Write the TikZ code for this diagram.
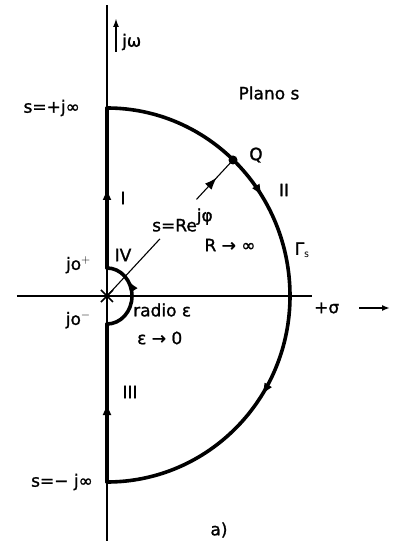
\documentclass[tikz,border=0pt]{standalone}
\usepackage{fontspec}
\setmainfont{DejaVu Sans}[FakeBold=1.2]
\usetikzlibrary{arrows.meta,calc,decorations.markings}

\begin{document}
\begin{tikzpicture}[
    x=1pt, y=1pt,
    axis/.style={line width=1.1pt},
    contour/.style={line width=3.6pt, line cap=round},
    midarrow/.style={postaction={decorate}, decoration={markings,
        mark=at position #1 with {\arrow{Latex[length=12pt,width=9pt]}}}},
    lbl/.style={font=\fontsize{17}{19}\selectfont, inner sep=1pt}
]
    \useasboundingbox (-107,-245) rectangle (287,296);

    % Axes
    \coordinate (O) at (0,0);
    \coordinate (ytop) at (0,291);
    \coordinate (ybot) at (0,-245);
    \coordinate (xleft) at (-90,0);
    \coordinate (xright) at (205,0);
    \draw[axis] (ybot) -- (ytop);
    \draw[axis] (xleft) -- (xright);

    % Contour
    \coordinate (top) at (0,188);
    \coordinate (bot) at (0,-186);
    \coordinate (right) at (183,0);
    \coordinate (epsup) at (0,28);
    \coordinate (epsdn) at (0,-28);
    \coordinate (Q) at (126,136);
    \draw[contour, midarrow=0.5] (epsup) -- (top);
    \draw[contour, midarrow=0.64] (top) arc[start angle=90, end angle=0, x radius=183, y radius=188];
    \draw[contour, midarrow=0.36] (right) arc[start angle=0, end angle=-90, x radius=183, y radius=186];
    \draw[contour, midarrow=0.5] (bot) -- (epsdn);
    \draw[contour, midarrow=0.7] (epsdn) arc[start angle=-90, end angle=90, x radius=25, y radius=28];

    % Ray to Q and the pole
    \draw[line width=1.1pt] (O) -- ($(O)!0.42!(Q)$);
    \draw[line width=1.1pt, midarrow=0.55] ($(O)!0.71!(Q)$) -- (Q);
    \fill (Q) circle[radius=4.5];
    \draw[line width=1.6pt] (O) ++(-6,-6) -- ++(12,12) ++(-12,0) -- ++(12,-12);

    % Axis names
    \coordinate (jwA) at (9,244);
    \coordinate (jwB) at (9,278);
    \draw[line width=2pt, -{Latex[length=9pt,width=6pt]}] (jwA) -- (jwB);
    \node[lbl, anchor=west] (jw) at (14,254) {jω};
    \node[lbl, anchor=west] (sigma) at (206,-12) {+σ};
    \coordinate (sgA) at (252,-12);
    \coordinate (sgB) at (283,-12);
    \draw[line width=1.6pt, -{Latex[length=8pt,width=6pt]}] (sgA) -- (sgB);

    % Labels
    \node[lbl] (plano) at (162,203) {Plano s};
    \node[lbl] (qlbl) at (149,141) {Q};
    \node[lbl, anchor=east] (sup) at (-26,188) {s=+j∞};
    \node[lbl, anchor=east] (sdn) at (-13,-186) {s=− j∞};
    \node[lbl] (I) at (16,98) {I};
    \node[lbl] (II) at (177,106) {II};
    \node[lbl] (III) at (23,-96) {III};
    \node[lbl] (IV) at (16,41) {IV};
    \node[lbl] (gam) at (195,46) {Γ$_\mathsf{s}$};
    \node[lbl] (Rinf) at (123,51) {R → ∞};
    \node[lbl, anchor=west] (sre) at (44,76) {s=Re\raisebox{10pt}{jφ}};
    \node[lbl, anchor=east] (j0p) at (-15,31) {jo$^+$};
    \node[lbl, anchor=east] (j0m) at (-15,-24) {jo$^-$};
    \node[lbl, anchor=west] (radio) at (25,-14) {radio ε};
    \node[lbl, anchor=west] (eps) at (29,-42) {ε → 0};
    \node[lbl] (fig) at (112,-234) {a)};
\end{tikzpicture}
\end{document}
